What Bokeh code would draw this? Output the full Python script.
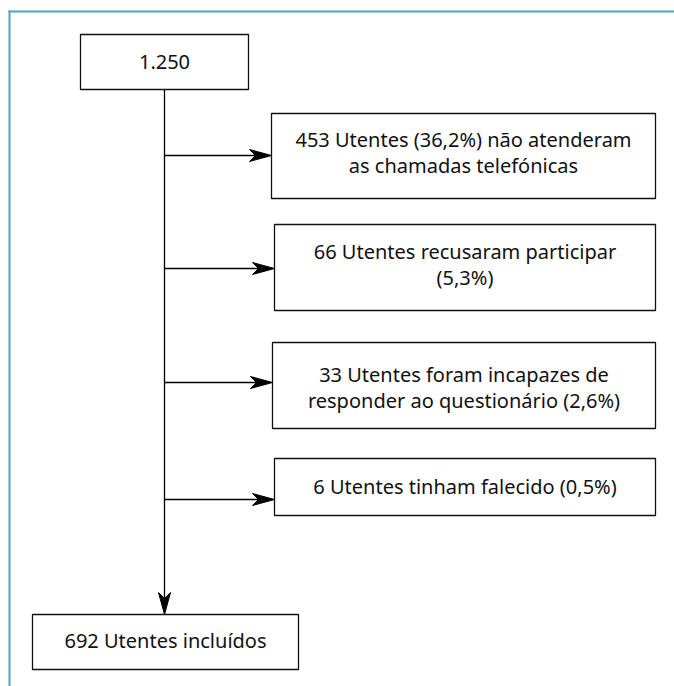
from bokeh.plotting import figure
from bokeh.models import Range1d, ColumnDataSource
from bokeh.core.properties import value
from bokeh.embed import file_html
from bokeh.resources import INLINE

# ---- data ----
total_label = ["1.250"]
excluded_labels = [
    "453 Utentes (36,2%) não atenderam\nas chamadas telefónicas",
    "66 Utentes recusaram participar\n(5,3%)",
    "33 Utentes foram incapazes de\nresponder ao questionário (2,6%)",
    "6 Utentes tinham falecido (0,5%)",
]
included_label = ["692 Utentes incluídos"]

# ---- layout (pixel coordinates) ----
W, H = 674, 686
top_box = dict(left=80, right=248, top=34, bottom=89)
ex_left = [271, 274, 272, 274]
ex_right = [655, 655, 655, 655]
ex_top = [113, 224, 342, 458]
ex_bottom = [198, 310, 428, 515]
ex_arrow_y = [155, 268, 382, 499]
ex_text_y = [152, 264, 387, 486]
bot_box = dict(left=32, right=298, top=614, bottom=669)
spine_x = 164
HEAD_L, HEAD_W, NOTCH = 22, 6, 6

FONT = value("Noto Sans")

p = figure(width=W, height=H, output_backend="svg", toolbar_location=None,
           x_range=Range1d(0, W), y_range=Range1d(H, 0),
           min_border=0, outline_line_color=None)
p.axis.visible = False
p.grid.visible = False

# teal frame (top and left)
p.segment(x0=[8, 9], y0=[11, 10], x1=[W, 9], y1=[11, H],
          line_color="#45ACB8", line_width=2)

# spine
p.segment(x0=[spine_x], y0=[top_box["bottom"]], x1=[spine_x], y1=[bot_box["top"] - 10],
          line_color="black", line_width=1.3)
# horizontal arrow shafts
p.segment(x0=[spine_x] * len(ex_arrow_y), y0=ex_arrow_y,
          x1=[xl - 10 for xl in ex_left], y1=ex_arrow_y,
          line_color="black", line_width=1.3)

# arrow heads (barbed), computed from the arrow end points
hx, hy = [], []
for y, xl in zip(ex_arrow_y, ex_left):
    hx.append([xl, xl - HEAD_L, xl - HEAD_L + NOTCH, xl - HEAD_L])
    hy.append([y, y - HEAD_W, y, y + HEAD_W])
ty = bot_box["top"]
hx.append([spine_x, spine_x - HEAD_W, spine_x, spine_x + HEAD_W])
hy.append([ty, ty - HEAD_L, ty - HEAD_L + NOTCH, ty - HEAD_L])
p.patches(xs=hx, ys=hy, fill_color="black", line_color="black", line_width=1)

# boxes
boxes = ColumnDataSource(dict(
    left=[top_box["left"]] + ex_left + [bot_box["left"]],
    right=[top_box["right"]] + ex_right + [bot_box["right"]],
    top=[top_box["top"]] + ex_top + [bot_box["top"]],
    bottom=[top_box["bottom"]] + ex_bottom + [bot_box["bottom"]],
))
p.quad(left="left", right="right", top="top", bottom="bottom", source=boxes,
       fill_color="white", line_color="#111111", line_width=1.3)

# texts
texts = ColumnDataSource(dict(
    x=[(top_box["left"] + top_box["right"]) / 2]
      + [(l + r) / 2 for l, r in zip(ex_left, ex_right)]
      + [(bot_box["left"] + bot_box["right"]) / 2],
    y=[61] + ex_text_y + [640],
    text=total_label + excluded_labels + included_label,
))
p.text(x="x", y="y", text="text", source=texts, text_font=FONT,
       text_font_size="20px", text_align="center", text_baseline="middle",
       text_color="#111111", text_line_height=0.98)

open("out.html", "w").write(file_html(p, INLINE))
